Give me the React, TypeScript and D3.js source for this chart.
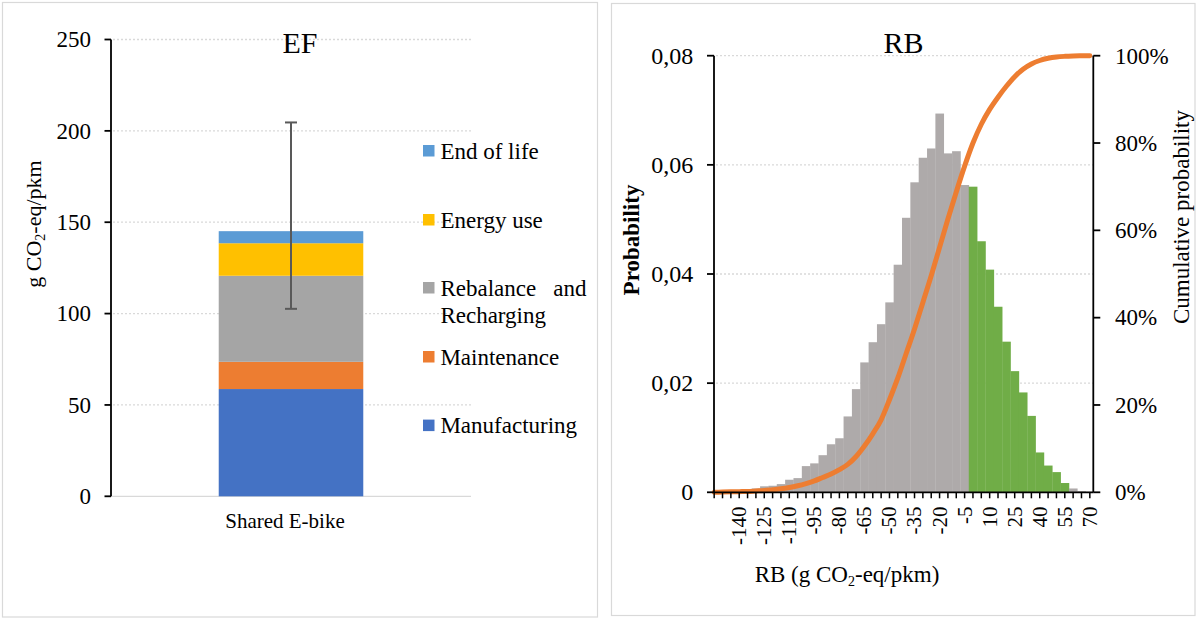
import React from 'react';
import * as d3 from 'd3';

// ---------- EF: stacked emission factor of a shared e-bike ----------
const efCategories = ['Shared E-bike'];
const efStages = ['Manufacturing', 'Maintenance', 'Rebalance and Recharging', 'Energy use', 'End of life'];
const efValues = [58.7, 14.9, 47.1, 17.8, 6.6];
const efColors = ['#4472C4', '#ED7D31', '#A5A5A5', '#FFC000', '#5B9BD5'];
const efErrorRange = [102.6, 204.6];
const efTicks = [0, 50, 100, 150, 200, 250];

// ---------- RB: histogram of the rebalancing benefit ----------
const rbBins = [
  -155, -150, -145, -140, -135, -130, -125, -120, -115, -110, -105, -100, -95, -90, -85, -80,
  -75, -70, -65, -60, -55, -50, -45, -40, -35, -30, -25, -20, -15, -10, -5, 0,
  5, 10, 15, 20, 25, 30, 35, 40, 45, 50, 55, 60, 65, 70,
];
const rbProbability = [
  0.0001, 0.0002, 0.0003, 0.0004, 0.0005, 0.0007, 0.0011, 0.0012, 0.0015, 0.0023, 0.0026, 0.0048,
  0.0053, 0.0068, 0.0088, 0.0099, 0.0139, 0.0189, 0.0238, 0.0275, 0.0308, 0.0348, 0.0417, 0.0503,
  0.0568, 0.0613, 0.063, 0.0694, 0.0621, 0.0625, 0.0563, 0.056, 0.046, 0.0408, 0.034, 0.0276,
  0.0222, 0.0183, 0.014, 0.0073, 0.0049, 0.0037, 0.0017, 0.0007, 0.0002, 0.0001,
];
const rbCumulative = [
  0.0, 0.0005, 0.001, 0.0015, 0.002, 0.003, 0.004, 0.006, 0.008, 0.011, 0.015, 0.02,
  0.026, 0.034, 0.042, 0.052, 0.064, 0.082, 0.106, 0.134, 0.166, 0.212, 0.262, 0.318,
  0.374, 0.435, 0.496, 0.561, 0.626, 0.688, 0.747, 0.8, 0.843, 0.877, 0.905, 0.93,
  0.952, 0.969, 0.981, 0.989, 0.994, 0.997, 0.9985, 0.9993, 0.9997, 1.0,
];
const rbHighlightRange = [0, 55];
const rbLabelBins = [-140, -125, -110, -95, -80, -65, -50, -35, -20, -5, 10, 25, 40, 55, 70];
const rbProbTicks = [0, 0.02, 0.04, 0.06, 0.08];
const rbCumTicks = [0, 0.2, 0.4, 0.6, 0.8, 1];

const FONT = "'Liberation Serif', 'Times New Roman', serif";
const GRID = '#d9d9d9';

function EFChart() {
  const left = 111;
  const right = 471;
  const top = 39.5;
  const bottom = 496.3;
  const y = d3.scaleLinear().domain([0, 250]).range([bottom, top]);
  const x = d3.scaleBand<string>().domain(efCategories).range([left, right]).paddingInner(0.427).paddingOuter(0.427);

  const row: Record<string, number | string> = { category: efCategories[0] };
  efStages.forEach((s, i) => (row[s] = efValues[i]));
  const series = d3.stack<any>().keys(efStages)([row]);

  const bx = x(efCategories[0]) as number;
  const bw = x.bandwidth();
  const cx = bx + bw / 2;

  const legendOrder = [4, 3, 2, 1, 0];
  const legendY = [151, 220, 288, 357, 425.6];

  return (
    <g fontFamily={FONT}>
      <rect x={2.5} y={2.5} width={595} height={614.5} fill="#fff" stroke={GRID} strokeWidth={1.2} />
      {efTicks.filter((t) => t > 0).map((t) => (
        <line key={t} x1={left + 2} x2={right} y1={y(t)} y2={y(t)} stroke={GRID} strokeWidth={1.3} strokeDasharray="2 2" />
      ))}
      <line x1={left} x2={right} y1={bottom} y2={bottom} stroke={GRID} strokeWidth={1.3} />

      {series.map((s, i) => (
        <rect key={s.key} x={bx} width={bw} y={y(s[0][1])} height={y(s[0][0]) - y(s[0][1])} fill={efColors[i]} />
      ))}

      <g stroke="#595959" strokeWidth={2}>
        <line x1={cx} x2={cx} y1={y(efErrorRange[0])} y2={y(efErrorRange[1])} />
        <line x1={cx - 6} x2={cx + 6} y1={y(efErrorRange[0])} y2={y(efErrorRange[0])} />
        <line x1={cx - 6} x2={cx + 6} y1={y(efErrorRange[1])} y2={y(efErrorRange[1])} />
      </g>

      <line x1={left} x2={left} y1={top} y2={bottom} stroke="#000" strokeWidth={1.8} />
      {efTicks.map((t) => (
        <g key={t}>
          <line x1={left - 6.5} x2={left} y1={y(t)} y2={y(t)} stroke="#000" strokeWidth={1.8} />
          <text x={91} y={y(t)} dy="0.34em" textAnchor="end" fontSize={23}>
            {t}
          </text>
        </g>
      ))}

      <text x={300} y={53} textAnchor="middle" fontSize={30}>
        EF
      </text>
      <text transform="translate(41,224) rotate(-90)" textAnchor="middle" fontSize={22}>
        g CO<tspan fontSize={14} dy={4}>2</tspan>
        <tspan dy={-4}>-eq/pkm</tspan>
      </text>
      <text x={cx - 6} y={528} textAnchor="middle" fontSize={21}>
        {efCategories[0]}
      </text>

      {legendOrder.map((k, j) => {
        const cy = legendY[j];
        const name = efStages[k];
        return (
          <g key={name}>
            <rect x={423} y={cy - 6} width={11.5} height={11.5} fill={efColors[k]} />
            {name === 'Rebalance and Recharging' ? (
              <g fontSize={23}>
                <text x={440.4} y={cy + 7.8}>Rebalance</text>
                <text x={586.5} y={cy + 7.8} textAnchor="end">and</text>
                <text x={440.4} y={cy + 34.8}>Recharging</text>
              </g>
            ) : (
              <text x={440.4} y={cy + 7.8} fontSize={23}>
                {name}
              </text>
            )}
          </g>
        );
      })}
    </g>
  );
}

function RBChart() {
  const left = 714;
  const right = 1093.3;
  const top = 55.7;
  const bottom = 492.3;
  const x = d3.scaleBand<number>().domain(rbBins).range([710, 1094]).padding(0);
  const y = d3.scaleLinear().domain([0, 0.08]).range([bottom, top]);
  const yCum = d3.scaleLinear().domain([0, 1]).range([bottom, top]);
  const bw = x.bandwidth();
  const mid = (b: number) => (x(b) as number) + bw / 2;

  const cumLine = d3
    .line<number>()
    .x((_, i) => mid(rbBins[i]))
    .y((d) => yCum(d))
    .curve(d3.curveMonotoneX);

  const fmtProb = (v: number) => (v === 0 ? '0' : v.toFixed(2).replace('.', ','));
  const fmtPct = d3.format('.0%');

  return (
    <g fontFamily={FONT}>
      <rect x={611.5} y={3.5} width={583.5} height={612} fill="#fff" stroke={GRID} strokeWidth={1.2} />
      {rbProbTicks.filter((t) => t > 0).map((t) => (
        <line key={t} x1={left + 2} x2={right} y1={y(t)} y2={y(t)} stroke={GRID} strokeWidth={1.3} strokeDasharray="2 2" />
      ))}

      {rbBins.map((b, i) => {
        const hi = b >= rbHighlightRange[0] && b <= rbHighlightRange[1];
        return (
          <rect
            key={b}
            x={x(b) as number}
            width={bw + 0.3}
            y={y(rbProbability[i])}
            height={bottom - y(rbProbability[i])}
            fill={hi ? '#70AD47' : '#AEAAAA'}
          />
        );
      })}

      <path d={cumLine(rbCumulative) as string} fill="none" stroke="#ED7D31" strokeWidth={5} strokeLinejoin="round" strokeLinecap="round" />

      {/* axes */}
      <line x1={left} x2={left} y1={top} y2={bottom} stroke="#000" strokeWidth={1.8} />
      <line x1={right} x2={right} y1={top} y2={bottom} stroke="#000" strokeWidth={1.8} />
      <line x1={left} x2={right} y1={bottom} y2={bottom} stroke="#000" strokeWidth={1.8} />

      {rbProbTicks.map((t) => (
        <g key={t}>
          <line x1={left - 7} x2={left} y1={y(t)} y2={y(t)} stroke="#000" strokeWidth={1.8} />
          <text x={693.3} y={y(t)} dy="0.34em" textAnchor="end" fontSize={24}>
            {fmtProb(t)}
          </text>
        </g>
      ))}
      {rbCumTicks.map((t) => (
        <g key={t}>
          <line x1={right} x2={right + 7} y1={yCum(t)} y2={yCum(t)} stroke="#000" strokeWidth={1.8} />
          <text x={1115} y={yCum(t)} dy="0.34em" fontSize={23}>
            {fmtPct(t)}
          </text>
        </g>
      ))}
      {rbBins.map((b) => (
        <line key={b} x1={mid(b)} x2={mid(b)} y1={bottom} y2={bottom + 6} stroke="#000" strokeWidth={1.5} />
      ))}
      {rbLabelBins.map((b) => (
        <text key={b} transform={`translate(${mid(b)},${506.5}) rotate(-90)`} textAnchor="end" dy="0.33em" fontSize={21}>
          {b}
        </text>
      ))}

      <text x={903.5} y={53} textAnchor="middle" fontSize={30}>
        RB
      </text>
      <text transform="translate(639,240) rotate(-90)" textAnchor="middle" fontSize={23} fontWeight="bold">
        Probability
      </text>
      <text transform="translate(1189,217) rotate(-90)" textAnchor="middle" fontSize={23}>
        Cumulative probability
      </text>
      <text x={847} y={581.7} textAnchor="middle" fontSize={23}>
        RB (g CO<tspan fontSize={14} dy={4}>2</tspan>
        <tspan dy={-4}>-eq/pkm)</tspan>
      </text>
    </g>
  );
}

export default function App() {
  return (
    <svg width={1197} height={619} style={{ position: 'absolute', left: 0, top: 0, background: '#fff' }}>
      <rect width={1197} height={619} fill="#fff" />
      <EFChart />
      <RBChart />
    </svg>
  );
}
